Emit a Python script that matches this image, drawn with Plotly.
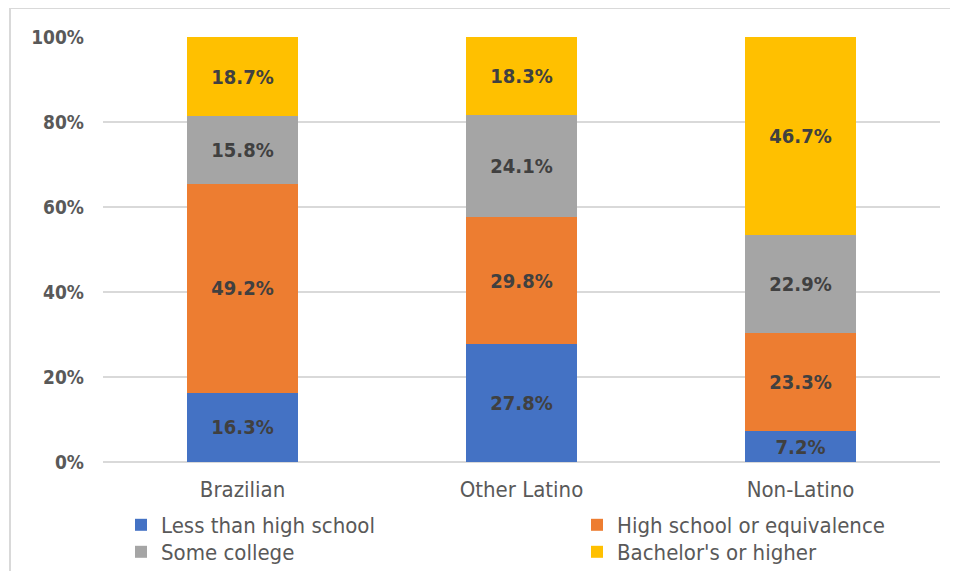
import plotly.graph_objects as go

categories = ["Brazilian", "Other Latino", "Non-Latino"]
series_names = ["Less than high school", "High school or equivalence", "Some college", "Bachelor's or higher"]
less_than_hs = [16.3, 27.8, 7.2]
hs_or_equiv = [49.2, 29.8, 23.3]
some_college = [15.8, 24.1, 22.9]
bachelors = [18.7, 18.3, 46.7]
tick_vals = [0, 20, 40, 60, 80, 100]
tick_text = ["0%", "20%", "40%", "60%", "80%", "100%"]

colors = ["#4472C4", "#ED7D31", "#A5A5A5", "#FFC000"]
legend_ids = ["legend", "legend2", "legend3", "legend4"]
FONT = "DejaVu Sans Condensed, Liberation Sans Narrow, sans-serif"

# figure is offset by the page's 8px body margin; coordinates below are figure pixels
W, H = 942, 563
L, T = 95, 29
R = W - 932
B = H - 454
PW, PH = W - L - R, H - T - B

def px_x(x):
    return (x - L) / PW

def px_y(y):
    return (H - B - y) / PH

fig = go.Figure()
for name, vals, col, lg in zip(series_names, [less_than_hs, hs_or_equiv, some_college, bachelors], colors, legend_ids):
    fig.add_trace(go.Bar(
        x=categories, y=vals, name=name, legend=lg,
        marker=dict(color=col, line=dict(width=0)),
        text=[f"{v:.1f}%" for v in vals],
        textposition="inside", insidetextanchor="middle",
        textangle=0,
        textfont=dict(family=FONT, size=20, color="#404040", weight="bold"),
        hoverinfo="skip",
    ))

legend_common = dict(
    orientation="v", yanchor="top", xanchor="left",
    traceorder="normal", itemwidth=30, tracegroupgap=0,
    bgcolor="rgba(0,0,0,0)",
    font=dict(family=FONT, size=22, color="#595959"),
)

col1_x, col2_x = 113, 569
row1_y, row2_y = 496, 523

fig.update_layout(
    width=W, height=H,
    barmode="stack", barnorm="percent", bargap=0.6,
    paper_bgcolor="white", plot_bgcolor="white",
    margin=dict(l=L, r=R, t=T, b=B, autoexpand=False),
    font=dict(family=FONT, color="#595959"),
    showlegend=True,
    legend=dict(x=px_x(col1_x), y=px_y(row1_y), **legend_common),
    legend2=dict(x=px_x(col2_x), y=px_y(row1_y), **legend_common),
    legend3=dict(x=px_x(col1_x), y=px_y(row2_y), **legend_common),
    legend4=dict(x=px_x(col2_x), y=px_y(row2_y), **legend_common),
    shapes=[dict(type="rect", xref="paper", yref="paper",
                 x0=px_x(2), x1=px_x(1010), y0=px_y(650), y1=px_y(0),
                 line=dict(color="#D9D9D9", width=2), fillcolor="rgba(0,0,0,0)", layer="below")],
)
fig.update_xaxes(
    showgrid=False, showline=False, ticks="", automargin=False,
    tickfont=dict(family=FONT, size=22, color="#595959"),
    ticklabelstandoff=12,
)
fig.update_yaxes(
    range=[0, 100], tickvals=tick_vals, ticktext=tick_text, automargin=False,
    showgrid=True, gridcolor="#D9D9D9", gridwidth=2,
    zeroline=True, zerolinecolor="#D9D9D9", zerolinewidth=2,
    showline=False, ticks="",
    tickfont=dict(family=FONT, size=19, color="#595959", weight="bold"),
    ticklabelstandoff=18,
)

fig.write_html("out.html")
